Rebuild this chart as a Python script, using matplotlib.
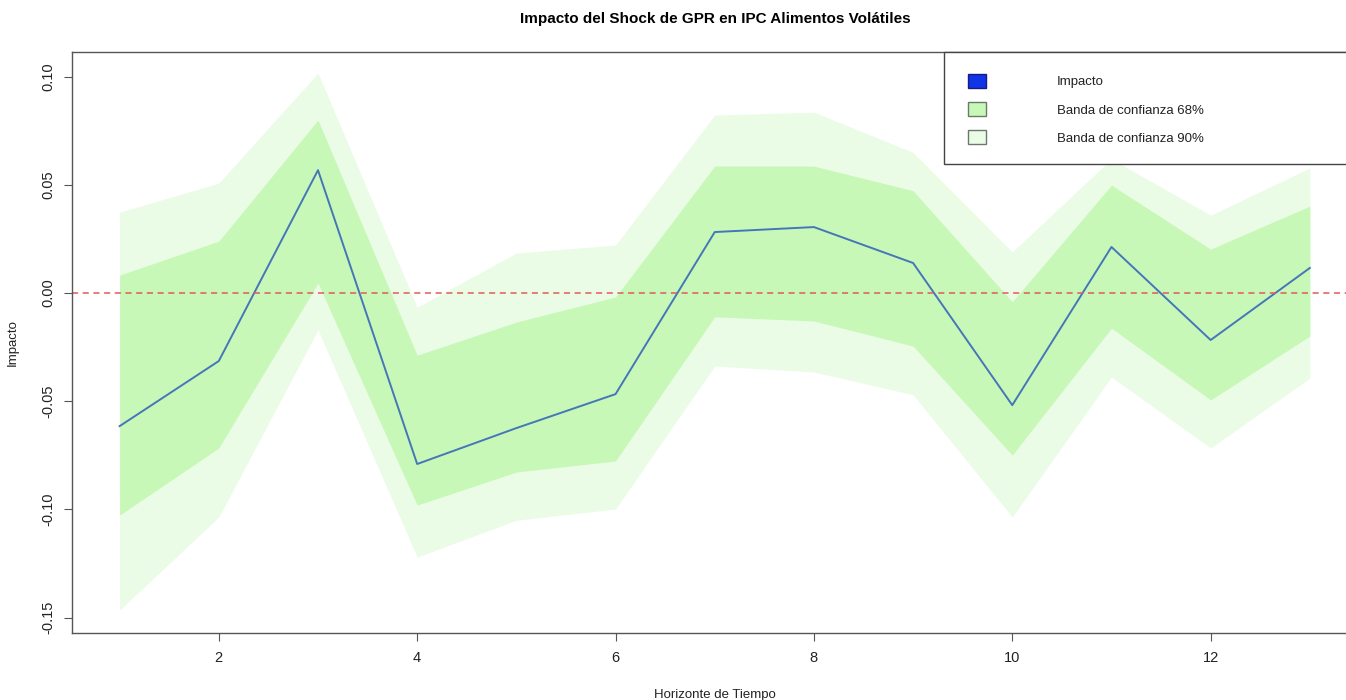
import numpy as np
import matplotlib.pyplot as plt
from matplotlib.patches import Rectangle

plt.rcParams['font.family'] = ['Liberation Sans', 'DejaVu Sans']

# Respuesta al impulso y bandas de confianza
horizonte = [1, 2, 3, 4, 5, 6, 7, 8, 9, 10, 11, 12, 13]
impacto = [-0.0615, -0.0314, 0.0568, -0.0790, -0.0624, -0.0467, 0.0282,
           0.0305, 0.0139, -0.0518, 0.0213, -0.0217, 0.0116]
sup_68 = [0.0083, 0.0240, 0.0800, -0.0287, -0.0134, -0.0018, 0.0587,
          0.0587, 0.0473, -0.0040, 0.0499, 0.0203, 0.0402]
inf_68 = [-0.1026, -0.0716, 0.0046, -0.0980, -0.0827, -0.0776, -0.0110,
          -0.0129, -0.0245, -0.0749, -0.0162, -0.0494, -0.0199]
sup_90 = [0.0374, 0.0508, 0.1017, -0.0065, 0.0185, 0.0222, 0.0823,
          0.0836, 0.0650, 0.0190, 0.0620, 0.0360, 0.0578]
inf_90 = [-0.1465, -0.1035, -0.0170, -0.1220, -0.1050, -0.0998, -0.0337,
          -0.0365, -0.0470, -0.1035, -0.0388, -0.0716, -0.0393]

col_90 = '#ebfce6'
col_68 = '#c8f8b8'
col_linea = '#4576b8'

fig = plt.figure(figsize=(13.46, 7.0), dpi=100)
ax = fig.add_axes([0.0535, 0.0957, 0.955, 0.83])

ax.fill_between(horizonte, inf_90, sup_90, color=col_90, lw=0)
ax.fill_between(horizonte, inf_68, sup_68, color=col_68, lw=0)
ax.plot(horizonte, impacto, color=col_linea, lw=1.4)
ax.axhline(0, color='#e35a5a', lw=1.1, ls=(0, (4, 3)))

ax.set_xlim(0.52, 13.48)
ax.set_ylim(-0.1571, 0.1114)
ax.set_xticks([2, 4, 6, 8, 10, 12])
ax.set_yticks([-0.15, -0.10, -0.05, 0.00, 0.05, 0.10])
ax.set_yticklabels(['-0.15', '-0.10', '-0.05', '0.00', '0.05', '0.10'],
                   rotation=90, va='center')
ax.tick_params(axis='both', direction='out', length=6, width=0.8,
               color='#555555', labelsize=10.5, labelcolor='#222222', pad=7)
ax.tick_params(axis='y', pad=6)
for s in ax.spines.values():
    s.set_color('#555555')
    s.set_linewidth(1.0)

ax.set_xlabel('Horizonte de Tiempo', fontsize=9.5, color='#222222', labelpad=17)
ax.set_ylabel('Impacto', fontsize=9.5, color='#222222', labelpad=16)
fig.text(715 / 1346, 0.973,
         'Impacto del Shock de GPR en IPC Alimentos Volátiles',
         ha='center', va='center', fontsize=11, fontweight='bold')

# Leyenda dibujada a mano en coordenadas de figura
W, H = 1346, 700
fig.patches.append(Rectangle((944 / W, (H - 164) / H), (1400 - 944) / W, 112 / H,
                             transform=fig.transFigure, fc='white',
                             ec='#444444', lw=1.0, zorder=5))
entradas = [('Impacto', '#1034e6', '#1a1a80'),
            ('Banda de confianza 68%', col_68, '#6a7a6a'),
            ('Banda de confianza 90%', col_90, '#6a7a6a')]
for i, (txt, fc, ec) in enumerate(entradas):
    yc = 81 + 28 * i
    fig.patches.append(Rectangle((968 / W, (H - yc - 7) / H), 18 / W, 14 / H,
                                 transform=fig.transFigure, fc=fc, ec=ec,
                                 lw=1.0, zorder=6))
    fig.text(1057 / W, (H - yc - 1.5) / H, txt, ha='left', va='center',
             fontsize=9.5, color='#222222', zorder=7)

fig.savefig('out.png', dpi=100)
